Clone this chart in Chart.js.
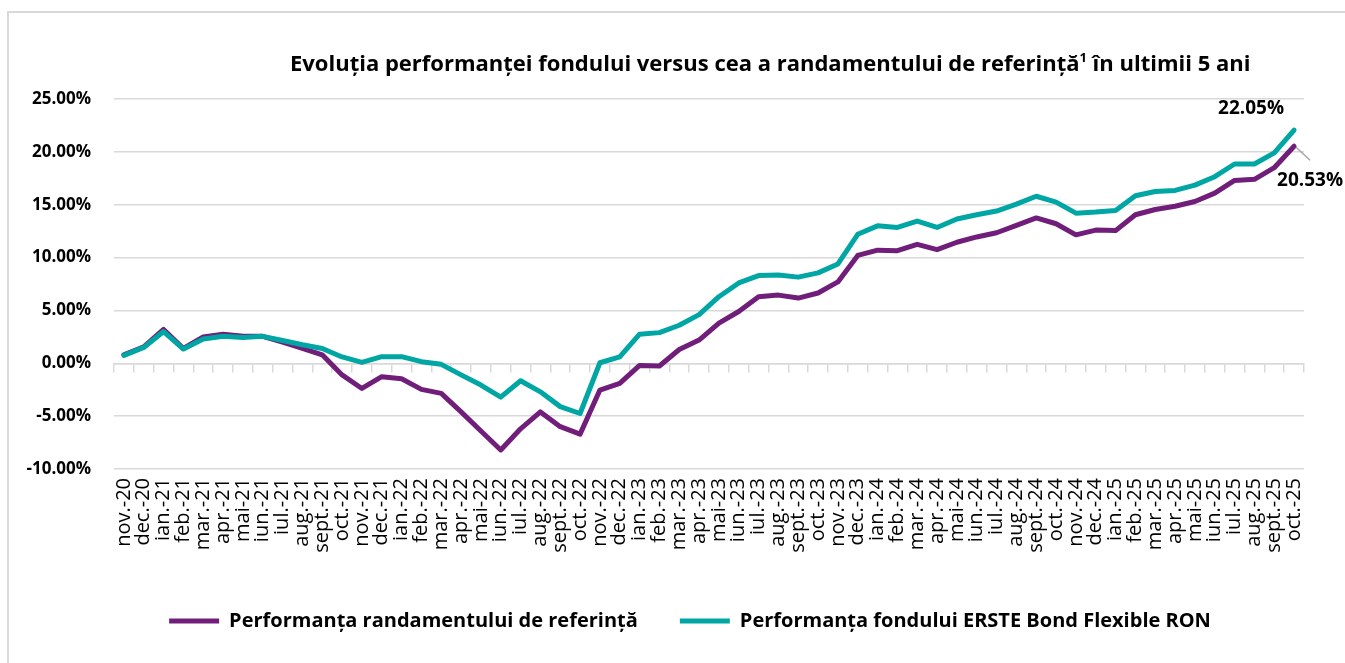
<!DOCTYPE html>
<html>
<head>
<meta charset="utf-8">
<script src="https://cdn.jsdelivr.net/npm/chart.js@4"></script>
<style>
html,body{margin:0;padding:0;background:#fff;}
#wrap{position:relative;width:1345px;height:663px;overflow:hidden;background:#fff;}
#chart{position:absolute;left:0;top:0;}
#frame{position:absolute;left:7px;top:11px;width:1400px;height:700px;border-left:2px solid #D9D9D9;border-top:2px solid #D9D9D9;pointer-events:none;}
#title{position:absolute;left:290px;top:47px;font-family:'Open Sans';font-weight:bold;font-size:22px;white-space:nowrap;color:#000;line-height:30px;}
#title sup{font-size:13px;line-height:0;vertical-align:9px;}
</style>
</head>
<body>
<div id="wrap">
  <canvas id="chart" width="1345" height="663"></canvas>
  <div id="frame"></div>
  <div id="title">Evoluția performanței fondului versus cea a randamentului de referință<sup>1</sup> în ultimii 5 ani</div>
</div>
<script>
const categories = [
  'nov.-20','dec.-20',
  'ian.-21','feb.-21','mar.-21','apr.-21','mai-21','iun.-21','iul.-21','aug.-21','sept.-21','oct.-21','nov.-21','dec.-21',
  'ian.-22','feb.-22','mar.-22','apr.-22','mai-22','iun.-22','iul.-22','aug.-22','sept.-22','oct.-22','nov.-22','dec.-22',
  'ian.-23','feb.-23','mar.-23','apr.-23','mai-23','iun.-23','iul.-23','aug.-23','sept.-23','oct.-23','nov.-23','dec.-23',
  'ian.-24','feb.-24','mar.-24','apr.-24','mai-24','iun.-24','iul.-24','aug.-24','sept.-24','oct.-24','nov.-24','dec.-24',
  'ian.-25','feb.-25','mar.-25','apr.-25','mai-25','iun.-25','iul.-25','aug.-25','sept.-25','oct.-25'
];

const benchmark = [
  0.80, 1.55, 3.20, 1.40, 2.50, 2.75, 2.55, 2.55, 2.00, 1.40, 0.80, -1.10,
  -2.38, -1.27, -1.46, -2.47, -2.85, -4.60, -6.40, -8.20, -6.20, -4.60, -6.00, -6.70,
  -2.53, -1.90, -0.20, -0.26, 1.30, 2.20, 3.80, 4.90, 6.30, 6.45, 6.17, 6.65,
  7.70, 10.20, 10.70, 10.65, 11.25, 10.75, 11.45, 11.95, 12.35, 13.05, 13.75, 13.20,
  12.15, 12.60, 12.55, 14.05, 14.55, 14.85, 15.30, 16.10, 17.30, 17.40, 18.50, 20.53
];

const fund = [
  0.75, 1.50, 3.00, 1.35, 2.30, 2.55, 2.45, 2.55, 2.15, 1.75, 1.40, 0.60,
  0.08, 0.63, 0.63, 0.15, -0.10, -1.10, -2.06, -3.20, -1.65, -2.70, -4.10, -4.75,
  0.05, 0.60, 2.75, 2.90, 3.60, 4.60, 6.30, 7.60, 8.30, 8.35, 8.15, 8.55,
  9.40, 12.20, 13.00, 12.85, 13.45, 12.85, 13.65, 14.05, 14.40, 15.05, 15.80, 15.25,
  14.20, 14.30, 14.45, 15.85, 16.25, 16.35, 16.85, 17.65, 18.85, 18.85, 19.90, 22.05
];

const seriesNames = ['Performanța randamentului de referință', 'Performanța fondului ERSTE Bond Flexible RON'];
const Y_MIN = -10, Y_MAX = 25, Y_STEP = 5;

const PURPLE = '#701E7A';
const TEAL = '#00A6A4';
const GRID = '#D9D9D9';
const FONT = 'Open Sans';

const endLabels = {
  id: 'endLabels',
  afterDatasetsDraw(chart) {
    const ctx = chart.ctx;
    const mB = chart.getDatasetMeta(0);
    const mF = chart.getDatasetMeta(1);
    const pB = mB.data[mB.data.length - 1];
    const pF = mF.data[mF.data.length - 1];
    ctx.save();
    ctx.font = 'bold 19px "' + FONT + '"';
    ctx.fillStyle = '#000';
    ctx.textAlign = 'center';
    ctx.textBaseline = 'middle';
    ctx.fillText(fund[fund.length - 1].toFixed(2) + '%', pF.x - 43, pF.y - 22);
    ctx.strokeStyle = '#A6A6A6';
    ctx.lineWidth = 1.5;
    ctx.beginPath();
    ctx.moveTo(pB.x + 2, pB.y + 1);
    ctx.lineTo(pB.x + 16, pB.y + 14);
    ctx.stroke();
    ctx.fillText(benchmark[benchmark.length - 1].toFixed(2) + '%', pB.x + 16, pB.y + 34);
    ctx.restore();
  }
};

const legendShift = {
  id: 'legendShift',
  afterLayout(chart) {
    const l = chart.legend;
    if (l) { l.left += 38; l.right += 38; }
  }
};

new Chart(document.getElementById('chart'), {
  type: 'line',
  data: {
    labels: categories,
    datasets: [
      {
        label: seriesNames[0], data: benchmark, order: 2,
        borderColor: PURPLE, backgroundColor: PURPLE, borderWidth: 5,
        pointRadius: 0, pointHoverRadius: 0, tension: 0,
        borderCapStyle: 'round', borderJoinStyle: 'round'
      },
      {
        label: seriesNames[1], data: fund, order: 1,
        borderColor: TEAL, backgroundColor: TEAL, borderWidth: 5,
        pointRadius: 0, pointHoverRadius: 0, tension: 0,
        borderCapStyle: 'round', borderJoinStyle: 'round'
      }
    ]
  },
  options: {
    responsive: false,
    animation: false,
    events: [],
    layout: { padding: { top: 99, right: 41, bottom: 22, left: 0 } },
    plugins: {
      title: { display: false },
      tooltip: { enabled: false },
      legend: {
        position: 'bottom',
        labels: {
          usePointStyle: true, pointStyle: 'line', pointStyleWidth: 50,
          padding: 42, color: '#000',
          font: { family: FONT, size: 20, weight: 'bold' },
          sort: (a, b) => a.datasetIndex - b.datasetIndex
        }
      }
    },
    scales: {
      x: {
        type: 'category', offset: true,
        grid: { display: false, drawTicks: false },
        border: { display: false },
        ticks: {
          autoSkip: false, maxRotation: 90, minRotation: 90, padding: 9,
          color: '#000', font: { family: FONT, size: 20 }
        },
        afterFit(s) { s.height = 100; }
      },
      x0: {
        type: 'category', position: { y: 0 }, offset: true,
        grid: { display: true, offset: true, drawOnChartArea: false, drawTicks: true, tickLength: 8, color: GRID, lineWidth: 1.5 },
        border: { display: true, color: GRID, width: 1.5 },
        ticks: { display: false, autoSkip: false }
      },
      y: {
        min: Y_MIN, max: Y_MAX,
        ticks: {
          stepSize: Y_STEP, padding: 23, color: '#000',
          font: { family: FONT, size: 17, weight: 'bold' },
          callback: v => v.toFixed(2) + '%'
        },
        grid: { color: GRID, lineWidth: 1.5, drawTicks: false },
        border: { display: false },
        afterFit(s) { s.width = 114; }
      }
    }
  },
  plugins: [endLabels, legendShift]
});
</script>
</body>
</html>
